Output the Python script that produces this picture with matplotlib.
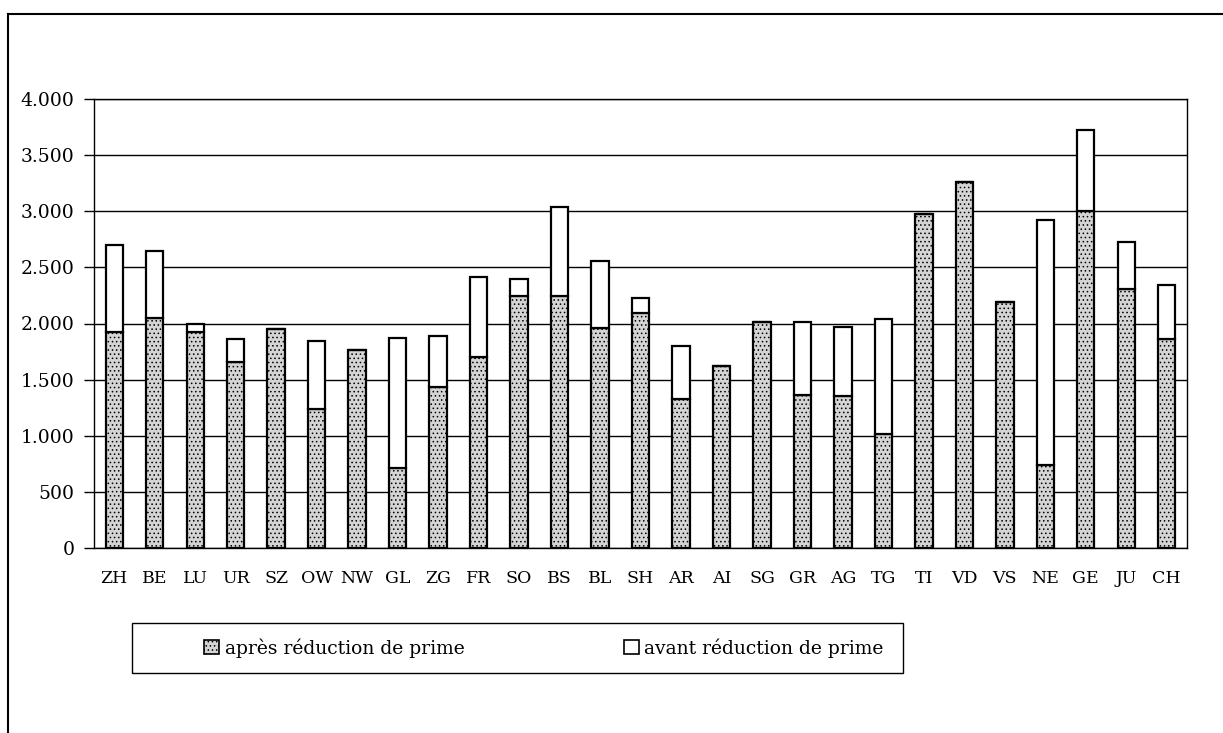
import matplotlib
matplotlib.use("Agg")
import matplotlib.pyplot as plt
import numpy as np
from matplotlib.patches import Rectangle, Patch
from matplotlib.lines import Line2D
from matplotlib.ticker import FuncFormatter

cantons = ["ZH", "BE", "LU", "UR", "SZ", "OW", "NW", "GL", "ZG", "FR", "SO", "BS", "BL", "SH",
           "AR", "AI", "SG", "GR", "AG", "TG", "TI", "VD", "VS", "NE", "GE", "JU", "CH"]
apres = [1920, 2050, 1920, 1660, 1950, 1240, 1760, 710, 1430, 1700, 2245, 2245, 1960, 2095,
         1330, 1625, 2015, 1365, 1350, 1020, 2975, 3265, 2190, 740, 3000, 2310, 1860]
avant = [2700, 2650, 2000, 1860, 1950, 1840, 1760, 1870, 1890, 2415, 2400, 3035, 2560, 2230,
         1800, 1625, 2015, 2015, 1965, 2040, 2975, 3265, 2190, 2925, 3725, 2725, 2345]
yticks = [0, 500, 1000, 1500, 2000, 2500, 3000, 3500, 4000]

plt.rcParams["font.family"] = ["DejaVu Serif"]
plt.rcParams["hatch.linewidth"] = 0.6

W, H = 1223, 733
fig = plt.figure(figsize=(W / 100, H / 100), dpi=100)
ax = fig.add_axes([94 / W, 1 - 548 / H, (1187 - 94) / W, (548 - 99) / H])

x = np.arange(len(cantons))
apres = np.array(apres)
avant = np.array(avant)
bw = 0.43
ax.bar(x, apres, width=bw, facecolor="#d4d4d4", edgecolor="black", hatch="....",
       linewidth=1.6, zorder=3)
ax.bar(x, avant - apres, bottom=apres, width=bw, facecolor="white", edgecolor="black",
       linewidth=1.6, zorder=3)

ax.set_xlim(-0.5, len(cantons) - 0.5)
ax.set_ylim(0, 4000)
ax.set_yticks(yticks)
ax.yaxis.set_major_formatter(FuncFormatter(lambda v, p: f"{int(v):,}".replace(",", ".")))
ax.grid(axis="y", color="black", linewidth=1.0, zorder=0)
ax.set_xticks(x)
ax.set_xticklabels(cantons)
ax.tick_params(axis="x", length=0, pad=16, labelsize=12.5)
ax.tick_params(axis="y", length=7, width=1.0, pad=7, labelsize=13.5)
for s in ax.spines.values():
    s.set_linewidth(1.0)

# outer frame around the figure
fig.add_artist(Line2D([8 / W, 1], [1 - 14 / H, 1 - 14 / H], color="black", lw=1.5,
                      transform=fig.transFigure))
fig.add_artist(Line2D([8 / W, 8 / W], [0, 1 - 14 / H], color="black", lw=1.5,
                      transform=fig.transFigure))

# legend box drawn separately, entries placed inside it
fig.add_artist(Rectangle((132 / W, 1 - 673 / H), (903 - 132) / W, 50 / H, fill=False,
                         edgecolor="black", linewidth=1.0, transform=fig.transFigure))
handles = [Patch(facecolor="#d4d4d4", edgecolor="black", hatch="....", linewidth=1.2),
           Patch(facecolor="white", edgecolor="black", linewidth=1.2)]
leg = fig.legend(handles, ["après réduction de prime", "avant réduction de prime"],
                 loc="center", ncol=2, frameon=False, fontsize=13.5,
                 bbox_to_anchor=((213 - 10) / W, 1 - 673 / H, (885 - 203) / W, 50 / H),
                 handlelength=0.8, handleheight=0.8, handletextpad=0.3,
                 columnspacing=8.5, borderpad=0.0)

fig.savefig("out.png", dpi=100)
